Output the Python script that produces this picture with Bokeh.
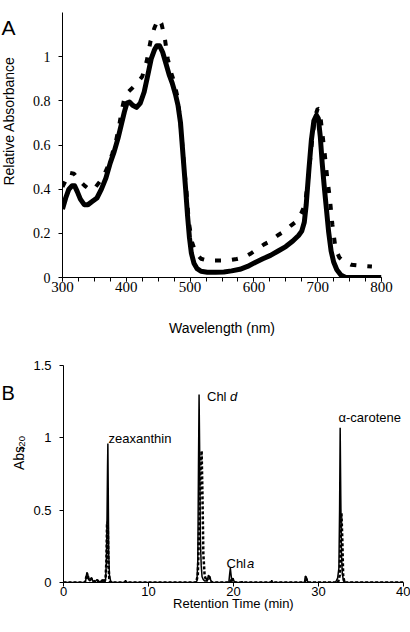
import math
from bokeh.plotting import figure
from bokeh.models import Range1d, SingleIntervalTicker, CustomJSTickFormatter, Label
from bokeh.layouts import column, row
from bokeh.embed import file_html
from bokeh.resources import INLINE

# ---------------- Panel A: absorption spectra ----------------
wl_solid = [300, 305, 310, 315, 319, 323, 328, 334, 340, 347, 354, 361, 368, 375,
            381, 387, 392, 397, 401, 405, 410, 416, 422, 428, 434, 439, 444, 448,
            452, 457, 462, 467, 472, 477, 481, 485, 489, 493, 496, 499, 502, 506,
            511, 517, 527, 540, 553, 565, 578, 590, 602, 614, 626, 638, 650, 661,
            670, 675, 679, 682, 686, 690, 694, 698, 701, 704, 707, 710, 713, 717,
            721, 725, 730, 736, 744, 800]
abs_solid = [0.31, 0.36, 0.40, 0.415, 0.415, 0.39, 0.355, 0.33, 0.33, 0.345, 0.36, 0.40, 0.45, 0.52,
             0.57, 0.63, 0.69, 0.75, 0.79, 0.795, 0.78, 0.77, 0.79, 0.84, 0.92, 0.99, 1.03, 1.05,
             1.05, 1.02, 0.97, 0.92, 0.88, 0.83, 0.78, 0.70, 0.55, 0.40, 0.28, 0.18, 0.11, 0.065,
             0.04, 0.028, 0.024, 0.024, 0.025, 0.03, 0.037, 0.05, 0.068, 0.085, 0.10, 0.12, 0.14, 0.165,
             0.19, 0.21, 0.25, 0.33, 0.48, 0.62, 0.71, 0.735, 0.72, 0.64, 0.52, 0.42, 0.33, 0.21,
             0.12, 0.07, 0.035, 0.012, 0.0, 0.0]

wl_dash = [300, 305, 310, 318, 326, 335, 344, 352, 360, 366, 372, 378, 384, 389,
           393, 397, 403, 410, 418, 425, 432, 438, 444, 450, 455, 460, 465, 470,
           475, 480, 485, 490, 494, 498, 503, 509, 517, 527, 545, 560, 573, 585,
           596, 606, 616, 626, 637, 648, 658, 667, 674, 680, 684, 688, 692, 696,
           700, 703, 707, 711, 715, 719, 723, 728, 734, 742, 752, 765, 785]
abs_dash = [0.41, 0.44, 0.475, 0.47, 0.44, 0.415, 0.395, 0.41, 0.44, 0.47, 0.51, 0.56, 0.62, 0.69,
            0.76, 0.81, 0.84, 0.86, 0.885, 0.91, 0.98, 1.07, 1.13, 1.17, 1.15, 1.09, 0.99, 0.93,
            0.885, 0.82, 0.70, 0.52, 0.40, 0.25, 0.16, 0.11, 0.085, 0.077, 0.077, 0.078, 0.084, 0.092,
            0.11, 0.13, 0.15, 0.165, 0.19, 0.21, 0.235, 0.255, 0.29, 0.33, 0.42, 0.53, 0.64, 0.73,
            0.765, 0.76, 0.66, 0.56, 0.45, 0.36, 0.24, 0.13, 0.09, 0.07, 0.058, 0.054, 0.05]

xticks_A_interval = 100
yticks_A_interval = 0.2

# ---------------- Panel B: HPLC chromatogram ----------------
rt_solid = [0.0, 2.4, 2.6, 2.75, 2.85, 2.95, 3.1, 3.3, 3.45, 3.7, 3.95, 4.1, 4.5, 4.65,
            4.8, 4.95, 5.05, 5.12, 5.18, 5.22, 5.27, 5.32, 5.4, 5.55, 5.8, 7.15, 7.3, 7.45,
            15.5, 15.7, 15.8, 15.88, 15.95, 16.02, 16.1, 16.2, 16.3, 16.45, 16.6, 16.9, 17.05,
            17.2, 17.35, 17.6, 19.45, 19.55, 19.63, 19.7, 19.8, 19.95, 20.05, 20.3, 20.9, 21.0,
            21.1, 24.4, 24.5, 24.6, 28.35, 28.45, 28.55, 28.7, 28.8, 32.0, 32.25, 32.4, 32.48,
            32.55, 32.62, 32.7, 32.8, 32.95, 33.2, 40.0]
a420_solid = [0.0, 0.0, 0.01, 0.07, 0.06, 0.02, 0.01, 0.035, 0.01, 0.005, 0.02, 0.005, 0.005, 0.02,
              0.005, 0.02, 0.15, 0.45, 0.80, 0.96, 0.60, 0.20, 0.05, 0.01, 0.0, 0.0, 0.015, 0.0,
              0.0, 0.01, 0.15, 0.80, 1.30, 0.90, 0.30, 0.12, 0.04, 0.02, 0.01, 0.01, 0.05,
              0.04, 0.01, 0.0, 0.0, 0.06, 0.10, 0.06, 0.01, 0.03, 0.01, 0.0, 0.0, 0.008,
              0.0, 0.0, 0.015, 0.0, 0.0, 0.045, 0.04, 0.01, 0.0, 0.0, 0.03, 0.1, 0.5,
              1.07, 0.60, 0.20, 0.06, 0.01, 0.0, 0.0]

rt_dash = [0.0, 2.5, 2.7, 2.85, 3.0, 3.3, 3.5, 4.0, 4.2, 4.6, 4.8, 4.95, 5.05, 5.12, 5.2,
           5.28, 5.38, 5.5, 15.6, 15.8, 15.95, 16.1, 16.25, 16.35, 16.45, 16.6, 16.8, 17.0,
           17.15, 17.3, 17.5, 19.6, 19.75, 19.85, 20.0, 28.4, 28.5, 28.6, 28.75, 32.3, 32.5,
           32.6, 32.7, 32.8, 32.9, 33.05, 40.0]
a420_dash = [0.0, 0.0, 0.04, 0.05, 0.015, 0.025, 0.005, 0.015, 0.0, 0.015, 0.0, 0.03, 0.15, 0.40, 0.42,
             0.15, 0.03, 0.0, 0.0, 0.05, 0.35, 0.75, 0.91, 0.60, 0.20, 0.05, 0.01, 0.03,
             0.04, 0.01, 0.0, 0.0, 0.03, 0.02, 0.0, 0.0, 0.03, 0.02, 0.0, 0.0, 0.05,
             0.30, 0.48, 0.30, 0.05, 0.0, 0.0]

peak_names = ["zeaxanthin", "Chl", "Chl", "\u03b1-carotene"]

SANS = "Liberation Sans"
SERIF = "Liberation Serif, Times New Roman, serif"

# ---------------- geometry (page px) ----------------
TOTAL_W = 410
SIDE_W = 26                 # narrow strip holding panel letter + y title
MAIN_W = TOTAL_W - SIDE_W
HA, HB = 342, 290
A_FL, A_FR, A_FT, A_FB = 62, 381, 12, 277     # frame of A, page coords
B_FL, B_FR, B_FT, B_FB = 63, 403, 365, 582    # frame of B, page coords


def toB(px, py):
    return 40 * (px - B_FL) / (B_FR - B_FL), 1.5 * (B_FB - py) / (B_FB - B_FT)


fmt = CustomJSTickFormatter(code="var s = tick.toFixed(1); return s.replace(/\\.0$/, '');")


def style(p, tick_font, tick_size):
    p.grid.visible = False
    p.outline_line_color = None
    p.background_fill_color = "white"
    p.border_fill_color = "white"
    for ax in (p.xaxis[0], p.yaxis[0]):
        ax.axis_line_color = "black"
        ax.axis_line_width = 1
        ax.major_tick_line_color = "black"
        ax.minor_tick_line_color = "black"
        ax.major_tick_in = 0
        ax.minor_tick_in = 0
        ax.major_label_text_font = tick_font
        ax.major_label_text_font_size = tick_size
        ax.major_label_text_color = "black"
        ax.axis_label_text_font = SANS
        ax.axis_label_text_font_style = "normal"
        ax.axis_label_text_color = "black"


def lab(p, x, y, text, size, **kw):
    p.add_layout(Label(x=x, y=y, text=text, text_font=SANS, text_font_size=size,
                       text_color="black", **kw))


def side_fig(h):
    s = figure(width=SIDE_W, height=h, output_backend="svg", toolbar_location=None,
               x_range=Range1d(0, SIDE_W), y_range=Range1d(0, h), min_border=0,
               x_axis_type=None, y_axis_type=None)
    s.grid.visible = False
    s.outline_line_color = None
    s.background_fill_color = "white"
    s.border_fill_color = "white"
    return s


# ---------- side strip A ----------
sA = side_fig(HA)
lab(sA, 1, HA - 20, "A", "21px", text_align="left", text_baseline="alphabetic")
lab(sA, 8.5, HA - 140, "Relative Absorbance", "14px", angle=math.pi / 2,
    text_align="center", text_baseline="middle")

# ---------- figure A ----------
pA = figure(width=MAIN_W, height=HA, output_backend="svg", toolbar_location=None,
            x_range=Range1d(300, 800), y_range=Range1d(0, 1.2),
            min_border_left=A_FL - SIDE_W, min_border_right=TOTAL_W - A_FR,
            min_border_top=A_FT, min_border_bottom=HA - A_FB)
style(pA, SERIF, "15px")
pA.yaxis.major_label_text_font_size = "14px"
pA.xaxis.ticker = SingleIntervalTicker(interval=xticks_A_interval, num_minor_ticks=4)
pA.yaxis.ticker = SingleIntervalTicker(interval=yticks_A_interval, num_minor_ticks=0)
pA.yaxis.formatter = fmt
pA.xaxis.major_tick_out = 4
pA.xaxis.minor_tick_out = 4
pA.yaxis.major_tick_out = 4
pA.yaxis.minor_tick_out = 0
pA.xaxis.major_label_standoff = 0
pA.yaxis.major_label_standoff = 8
pA.xaxis.axis_label = "Wavelength (nm)"
pA.xaxis.axis_label_text_font_size = "14px"
pA.xaxis.axis_label_standoff = 25

pA.line(wl_dash, abs_dash, line_color="black", line_width=4, line_dash="6 11")
pA.line(wl_solid, abs_solid, line_color="black", line_width=5, line_join="round")

# ---------- side strip B ----------
sB = side_fig(HB)
lab(sB, 1, HB - (378.5 - HA), "B", "20px", text_align="left", text_baseline="alphabetic")
lab(sB, 18, HB - (481.7 - HA), "Abs", "14px", angle=math.pi / 2,
    text_align="left", text_baseline="middle")
lab(sB, 21.5, HB - (457.5 - HA), "420", "9.5px", angle=math.pi / 2,
    text_align="left", text_baseline="middle")

# ---------- figure B ----------
pB = figure(width=MAIN_W, height=HB, output_backend="svg", toolbar_location=None,
            x_range=Range1d(0, 40), y_range=Range1d(0, 1.5),
            min_border_left=B_FL - SIDE_W, min_border_right=TOTAL_W - B_FR,
            min_border_top=B_FT - HA, min_border_bottom=HA + HB - B_FB)
style(pB, SANS, "13px")
pB.xaxis.ticker = SingleIntervalTicker(interval=10, num_minor_ticks=0)
pB.yaxis.ticker = SingleIntervalTicker(interval=0.5, num_minor_ticks=0)
pB.yaxis.formatter = fmt
pB.xaxis.major_tick_out = 4
pB.yaxis.major_tick_out = 4
pB.xaxis.minor_tick_out = 0
pB.yaxis.minor_tick_out = 0
pB.xaxis.major_label_standoff = 0
pB.yaxis.major_label_standoff = 8
pB.xaxis.axis_label = "Retention Time (min)"
pB.xaxis.axis_label_text_font_size = "13px"
pB.xaxis.axis_label_standoff = -3

pB.line(rt_dash, a420_dash, line_color="black", line_width=2.5, line_dash="3 2")
pB.line(rt_solid, a420_solid, line_color="black", line_width=1.5)

x, y = toB(108, 437.7)
lab(pB, x, y, peak_names[0], "13px", text_align="left", text_baseline="alphabetic")
x, y = toB(206.5, 396)
lab(pB, x, y, peak_names[1], "13px", text_align="left", text_baseline="alphabetic")
x, y = toB(229.5, 396)
lab(pB, x, y, "d", "13px", text_align="left", text_baseline="alphabetic", text_font_style="italic")
x, y = toB(226, 563)
lab(pB, x, y, peak_names[2], "13px", text_align="left", text_baseline="alphabetic")
x, y = toB(246.5, 563)
lab(pB, x, y, "a", "13px", text_align="left", text_baseline="alphabetic", text_font_style="italic")
x, y = toB(338, 416.5)
lab(pB, x, y, peak_names[3], "13px", text_align="left", text_baseline="alphabetic")

layout = column(row(sA, pA, spacing=0), row(sB, pB, spacing=0), spacing=0)
open("out.html", "w").write(file_html(layout, INLINE))
